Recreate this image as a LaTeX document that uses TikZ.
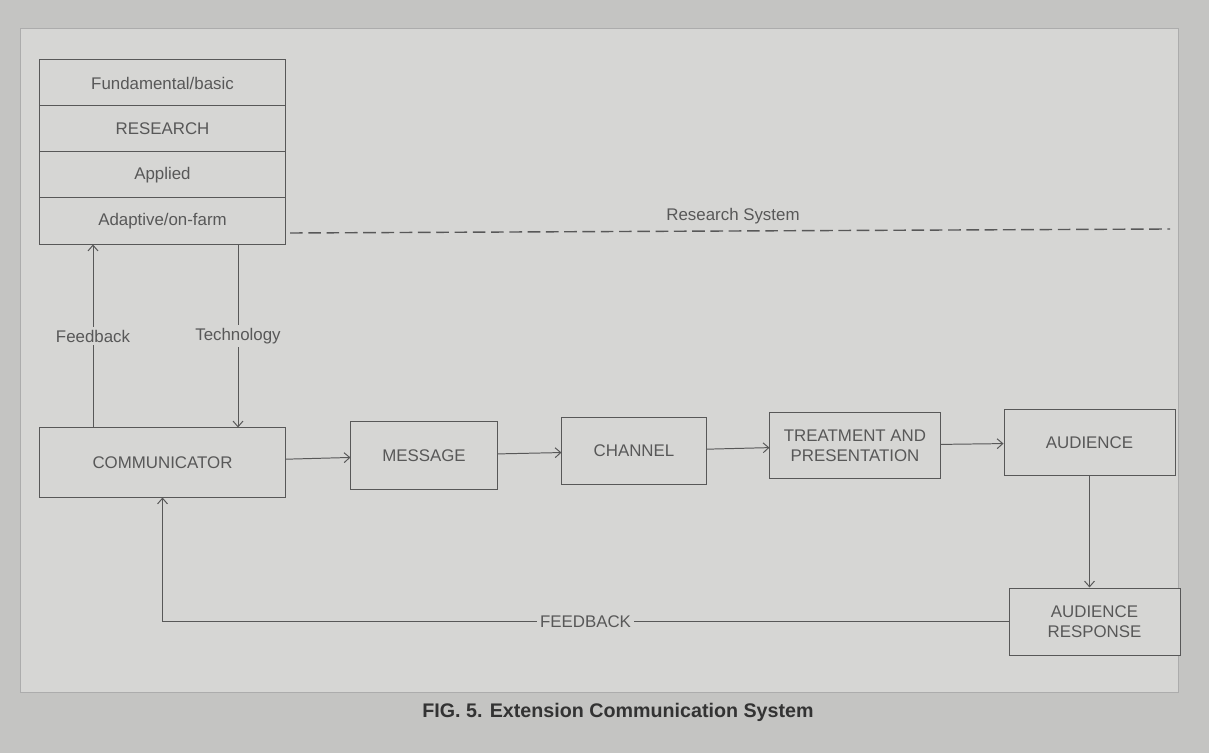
\documentclass[tikz,border=0pt]{standalone}
\usepackage{fontspec}
\setmainfont{Liberation Sans}
\usetikzlibrary{arrows.meta}

\definecolor{paper}{RGB}{214,214,212}
\definecolor{edge}{RGB}{196,196,194}
\definecolor{ink}{RGB}{88,88,88}

\begin{document}
\begin{tikzpicture}[x=0.025cm, y=-0.025cm, >={Straight Barb[length=4pt, width=7pt]}]
	\tikzstyle{every node} = [text=ink, font=\fontsize{12}{14}\selectfont]
	\tikzstyle{box} = [draw=ink, fill=paper, line width=0.7pt, align=center, inner sep=2pt]
	\tikzstyle{lab} = [fill=paper, inner sep=2pt]
	\tikzstyle{link} = [draw=ink, line width=0.7pt]
	% page and frame
	\fill[edge] (0,0) rectangle (1209,753);
	\draw[ink!50, fill=paper] (20,28) rectangle (1178,692);
	% research stack
	\node[box, minimum width=6.125cm, minimum height=1.15cm] (fund) at (162.5, 83) {Fundamental/basic};
	\node[box, minimum width=6.125cm, minimum height=1.15cm] (res) at (162.5, 129) {RESEARCH};
	\node[box, minimum width=6.125cm, minimum height=1.15cm] (appl) at (162.5, 175) {Applied};
	\node[box, minimum width=6.125cm, minimum height=1.15cm] (adap) at (162.5, 221) {Adaptive/on-farm};
	% communication chain
	\node[box, minimum width=6.125cm, minimum height=1.725cm] (comm) at (162.5, 462.5) {COMMUNICATOR};
	\node[box, minimum width=3.65cm, minimum height=1.675cm] (msg) at (424, 455.5) {MESSAGE};
	\node[box, minimum width=3.6cm, minimum height=1.65cm] (chan) at (634, 451) {CHANNEL};
	\node[box, minimum width=4.25cm, minimum height=1.625cm] (treat) at (855, 445.5) {TREATMENT AND\\PRESENTATION};
	\node[box, minimum width=4.275cm, minimum height=1.625cm] (aud) at (1089.5, 442.5) {AUDIENCE};
	\node[box, minimum width=4.275cm, minimum height=1.675cm] (resp) at (1094.5, 621.5) {AUDIENCE\\RESPONSE};
	% research system boundary
	\coordinate (rsl) at (290, 233);
	\coordinate (rsr) at (1170, 229);
	\node (rsys) at (733, 216) {Research System};
	\draw [link, line width=1pt, dash pattern=on 9pt off 4pt] (rsl)--(rsr);
	% links to research
	\coordinate (fbx) at (93, 0);
	\coordinate (tcx) at (238, 0);
	\draw [link, ->] (comm.north -| fbx)-- node[lab] {Feedback} (adap.south -| fbx);
	\draw [link, ->] (adap.south -| tcx)-- node[lab] {Technology} (comm.north -| tcx);
	% chain
	\draw [link, ->] (comm)--(msg);
	\draw [link, ->] (msg)--(chan);
	\draw [link, ->] (chan)--(treat);
	\draw [link, ->] (treat)--(aud);
	\draw [link, ->] (aud.south)--(aud.south |- resp.north);
	\draw [link, ->] (resp.west)-- node[lab] {FEEDBACK} (resp.west -| comm.south)--(comm.south);
	% caption
	\node[text=black!80, font=\fontsize{14}{16}\selectfont\bfseries] (cap) at (618, 712) {FIG. 5. Extension Communication System};
\end{tikzpicture}
\end{document}
